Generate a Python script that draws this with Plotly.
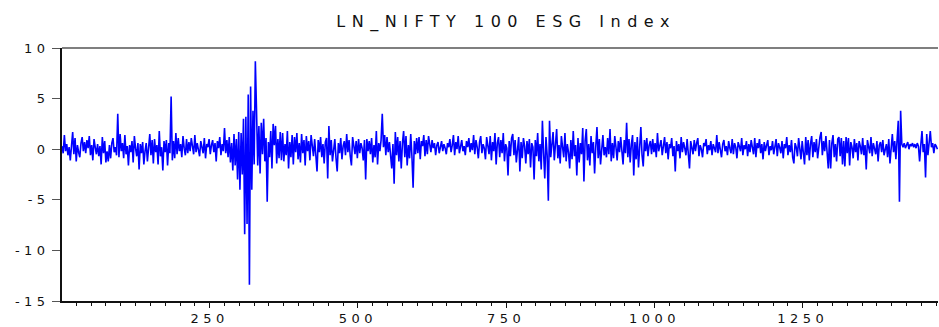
import plotly.graph_objects as go

title_text = "LN_NIFTY 100 ESG Index"
obs_start = 1
obs_step = 2
x_ticks = [250, 500, 750, 1000, 1250]
y_ticks = [10, 5, 0, -5, -10, -15]

returns = [
    0.3, -0.4, 1.4, -0.2, 0.5, -0.6, 0.2, -1.1, 0.3, 1.7, -0.5, 1.1, -1.2, 0.4, -0.3, -0.8, 0.6, 1.2, -0.2, 0.7,
    -0.4, 0.9, 0.1, 1.3, -0.6, 0.4, -1.1, 1.0, 0.2, -0.5, 0.5, -0.7, 0.3, -1.5, 1.2, -0.4, 0.8, -1.3, -0.2, -1.2,
    0.4, -0.9, 0.6, 1.1, -0.3, 0.2, -0.6, 3.5, -0.8, 1.5, -0.2, 0.6, -0.9, 1.4, -0.5, 0.3, -1.6, 0.4, -0.3, 0.8,
    -1.3, 1.3, 0.1, -0.7, 0.6, -2.0, 0.5, -0.4, 0.7, -1.5, -0.2, 0.6, -1.2, 0.2, 1.5, -0.6, 0.9, -1.4, 1.0, -0.3,
    0.4, -1.5, 1.8, -0.7, 0.2, -2.1, 0.8, -0.3, 0.9, -1.6, 0.6, -0.4, 5.2, -1.1, 0.8, -0.9, 1.6, -0.5, 1.1, -0.2,
    0.5, -0.8, 1.3, 0.1, -0.6, 1.0, -0.4, 0.7, -0.2, 1.1, 0.3, -0.5, 1.4, -0.3, 0.6, 0.0, -0.7, 0.8, 0.3, -0.4,
    1.1, -0.9, 0.5, 0.2, 1.0, -0.5, 0.4, 0.9, -0.3, 0.6, -1.2, 0.8, 0.1, 1.2, -0.6, 0.5, -0.2, 2.1, -0.4, 0.9,
    -0.8, 1.2, -1.3, 0.6, -2.1, 1.5, -1.6, 1.0, -3.0, 1.7, -4.0, 1.6, -2.5, 3.0, -8.4, 3.2, -7.4, 5.4, -13.4, 6.2,
    -4.0, 3.8, -1.5, 8.7, 3.8, -1.6, 2.3, -2.4, 2.6, -0.5, 3.0, -1.2, 1.1, -5.2, 0.7, -0.8, 1.8, -1.9, 2.5, 0.4,
    2.3, -1.4, 1.0, -0.9, 1.7, -1.1, 1.6, -1.2, 0.5, -0.6, 1.8, -1.9, 0.7, -0.8, 1.4, -1.5, 1.2, -0.3, 1.6, -1.0,
    0.6, -1.3, 1.5, -0.4, 0.9, -1.6, 1.3, -0.2, 0.8, -1.1, 1.4, 0.2, -0.7, 1.0, -0.5, -2.2, 0.9, -0.3, 1.2, -0.8,
    0.5, -1.4, 0.7, 1.1, -2.9, 2.3, -0.6, 0.9, -1.2, 0.4, 1.0, -0.9, -2.2, 0.6, -0.4, 1.1, -1.0, 0.3, 0.8, -0.6,
    1.5, -0.3, 0.9, -0.7, -1.6, 1.2, 0.2, -0.5, 0.8, -0.9, 1.0, -0.4, 0.6, 0.1, -1.1, 0.9, -3.0, 1.0, -0.2, 0.8,
    -0.5, 1.1, -1.3, 0.4, -0.8, 1.8, -1.5, 0.6, -0.2, 0.9, 3.5, 0.2, 1.4, -0.6, 1.2, -0.3, 0.7, -1.0, -1.9, 0.5,
    -3.4, 1.7, -0.6, 1.2, -1.2, 0.8, -1.9, 0.6, 1.8, -0.8, 1.3, -1.6, 0.4, -0.9, 1.5, -0.7, -3.8, 0.8, -0.5, 1.1,
    -0.4, 1.2, -1.0, 0.8, 0.3, 1.4, -0.7, 0.9, -0.5, 1.3, 0.2, -0.3, 0.9, 0.1, 0.6, -0.6, 0.4, 0.7, -0.4, 0.3,
    0.8, -0.2, 0.5, 0.1, -0.5, 0.6, 0.2, 1.0, -0.3, 0.4, 1.4, -0.6, 0.7, 0.0, 1.3, -0.4, 0.5, 0.9, -0.2, 0.3,
    -0.6, 0.8, 0.2, 1.1, -0.3, 0.6, -0.1, 1.4, -0.5, 0.9, 0.2, -0.9, 0.7, 1.3, -0.4, 0.5, 0.1, -1.0, 1.2, 0.3,
    -0.5, 1.3, -1.1, 0.7, -0.2, 1.6, -1.5, 0.6, 1.2, -0.8, 0.9, -0.4, 1.6, -1.2, 0.5, 0.1, -2.6, 0.8, -0.7, 1.1,
    1.5, -0.6, 0.9, -1.3, 0.4, 1.2, -2.2, 0.7, -0.9, 1.1, 0.3, -1.4, 0.8, -0.5, 1.0, -1.8, 0.6, 0.2, -3.0, 0.9,
    -0.7, 1.6, -1.2, 0.5, -2.0, 2.8, -0.4, -2.9, 1.2, -0.6, -5.1, 2.8, -0.8, 1.0, 1.7, -1.1, 0.6, 2.0, -0.9, 0.4,
    -1.4, 1.3, 0.2, -0.8, 1.6, -1.2, 0.5, -0.3, -1.9, 0.9, -1.0, 1.8, -0.7, 0.4, -2.6, 1.1, -1.3, 0.6, -0.5, 2.1,
    -3.2, 0.8, 2.0, -1.1, 0.5, -1.6, 1.3, -0.4, 0.7, -2.4, 0.3, 2.2, -0.9, 1.0, -1.5, 0.6, 1.4, -0.6, 0.2, -0.8,
    1.1, -0.5, 2.0, -1.2, 0.6, -0.9, 1.3, 0.2, -1.1, 0.8, -0.3, 1.2, -0.6, -1.5, 0.9, -0.4, 2.6, -0.8, 1.0, -1.3,
    0.5, 1.4, -2.6, 0.7, -1.0, 1.2, -1.8, 0.3, 2.2, -0.6, -1.7, 0.9, -0.2, 1.1, -0.7, 0.4, 0.8, -0.5, 1.0, -0.3,
    0.6, -0.8, 1.6, -0.2, 0.4, 0.9, -0.6, 0.3, 1.2, -0.4, 0.7, -1.0, 0.5, 0.1, 1.1, -0.7, 0.3, -2.2, 0.8, -0.2,
    0.5, -0.9, 1.2, -0.3, 0.7, 0.1, -0.6, 1.0, -0.4, -1.9, 0.8, 0.2, -0.5, 0.9, -0.2, 0.6, 1.1, -0.7, 0.4, 0.0,
    -0.8, 0.6, 0.3, 1.0, -0.5, 0.4, -0.1, 0.8, -0.6, 0.5, 0.2, -0.3, 1.4, -0.4, 0.7, 0.1, -0.8, 0.5, 0.9, -0.2,
    0.3, -0.6, 0.8, 0.1, -0.4, 1.0, -0.5, 0.6, 0.2, -0.9, 0.7, 0.3, -0.2, 1.1, -0.6, 0.4, 0.0, 0.8, -0.7, 0.5,
    -0.3, 0.9, 0.2, -0.5, 1.1, -0.8, 0.6, 0.1, 1.0, -0.4, 0.5, -1.0, 0.7, -0.2, 0.4, 0.9, -0.6, 0.3, -0.1, 0.8,
    -0.5, 0.3, 1.0, -0.7, 0.6, 0.2, -0.4, 0.8, -0.9, 0.5, 0.1, 1.2, -0.6, 0.4, -0.3, 0.9, -0.8, -1.4, 0.6, 0.2,
    -0.7, 1.1, 0.3, -1.0, 0.8, -0.4, -1.5, 1.2, -0.6, 0.9, -1.1, 0.5, 1.3, -0.8, 0.7, -0.3, 1.0, -0.9, 0.4, 1.2,
    1.7, -0.6, 0.8, -0.2, 1.3, -0.5, -1.9, 0.9, -1.9, 0.6, 1.4, -0.8, 0.5, -1.2, 1.0, 1.2, -0.7, 1.1, -1.5, 0.8,
    -1.7, 1.2, -0.4, 1.1, -1.6, 0.7, 0.2, -0.9, 1.0, -0.3, 0.6, -1.1, 0.8, 0.3, -0.5, 1.1, -0.6, 0.4, -2.0, 0.9,
    0.3, -0.4, 1.2, -0.7, 0.6, 0.1, -0.5, 0.8, -1.2, 0.4, 0.7, -0.3, 0.9, -0.6, 0.2, 0.5, -0.8, 1.0, -1.4, 0.3,
    1.5, -0.3, 0.8, -1.0, 0.6, 2.8, -5.2, 3.8, 0.5, 0.2, 0.6, 0.1, 0.4, 0.7, 0.0, 0.5, 0.3, 0.6, 0.2, 0.5,
    0.1, 0.6, 0.3, -1.2, 0.4, 1.8, -0.3, 0.5, -2.8, 1.5, -0.6, 0.4, 1.8, 0.2, 0.6, -0.4, 0.5, 0.3, 0.0,
]

obs = [obs_start + obs_step * i for i in range(len(returns))]

fig = go.Figure()
fig.add_trace(go.Scatter(
    x=obs, y=returns, mode="lines",
    line=dict(color="#0000FF", width=1.6),
    showlegend=False, hoverinfo="skip",
))

font_family = "DejaVu Sans, Liberation Sans, Arial, sans-serif"

fig.update_layout(
    width=939, height=327,
    margin=dict(l=62, r=1, t=48, b=23),
    paper_bgcolor="white", plot_bgcolor="white",
    title=dict(text=title_text, x=0.507, xanchor="center", xref="paper",
               y=0.935, yanchor="middle", yref="container",
               font=dict(family=font_family, size=16, color="#111111")),
    font=dict(family=font_family, size=13, color="#111111"),
)

fig.update_xaxes(
    range=[1, 1478], showgrid=False, zeroline=False,
    showline=True, linecolor="#111111", linewidth=1.5,
    tickmode="array", tickvals=x_ticks, ticktext=[str(t) for t in x_ticks],
    ticks="outside", ticklen=5, tickwidth=1.2, tickcolor="#111111",
    minor=dict(tickmode="linear", tick0=0, dtick=25, ticks="outside",
               ticklen=3, tickwidth=1, tickcolor="#111111", showgrid=False),
    tickfont=dict(size=13),
)
fig.update_yaxes(
    range=[-15, 10], showgrid=False, zeroline=False,
    showline=True, linecolor="#111111", linewidth=1.5,
    tickmode="array", tickvals=y_ticks, ticktext=[str(t) for t in y_ticks],
    ticks="outside", ticklen=8, tickwidth=1, tickcolor="#555555",
    tickfont=dict(size=13),
)

fig.add_shape(type="line", xref="paper", yref="paper", x0=0, x1=1, y0=1, y1=1,
              line=dict(color="#555555", width=1.5))

spacing_js = (
    "var s=document.createElement('style');"
    "s.textContent='.gtitle{letter-spacing:6.5px;} .xtick text{letter-spacing:4.5px;} .ytick text{letter-spacing:4.5px;}';"
    "document.head.appendChild(s);"
)

fig.write_html("out.html", post_script=spacing_js)
